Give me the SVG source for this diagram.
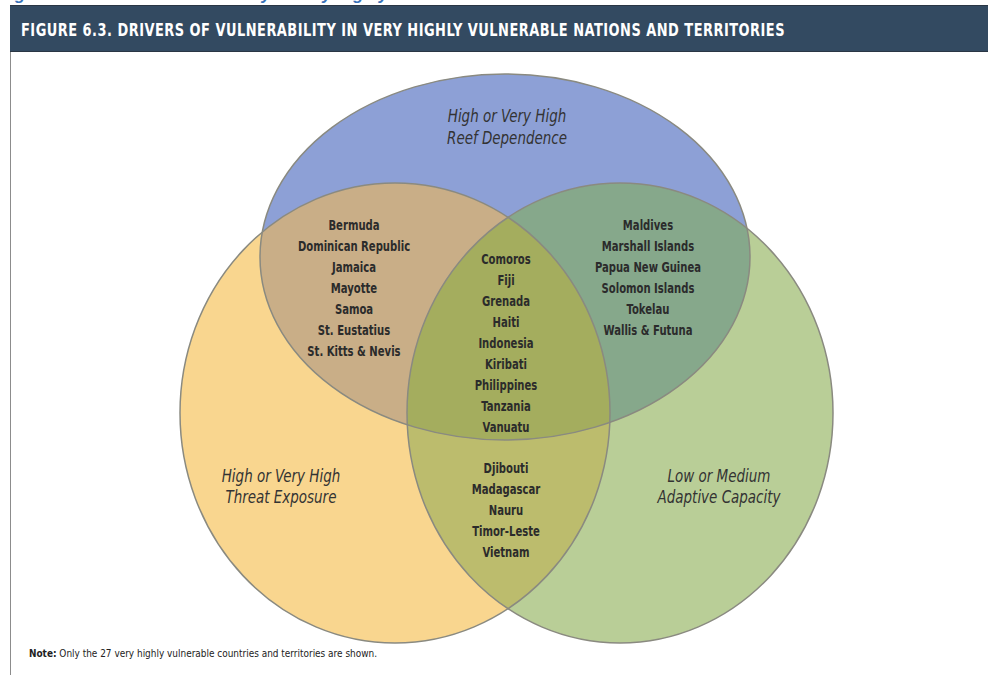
<svg xmlns="http://www.w3.org/2000/svg" width="988" height="675" viewBox="0 0 988 675">
  <style>
    .cap { font-family: "Liberation Sans", Arial, sans-serif; font-weight: bold; font-style: italic; font-size: 17px; fill: #3a72b8; }
    .title { font-family: "Liberation Sans Narrow", "DejaVu Sans Condensed", "Liberation Sans", sans-serif; font-weight: bold; font-size: 18px; fill: #ffffff; letter-spacing: 0.6px; }
    .name { font-family: "Liberation Sans Narrow", "DejaVu Sans Condensed", "Liberation Sans", sans-serif; font-weight: bold; font-size: 14px; fill: #2b2b2b; text-anchor: middle; }
    .set { font-family: "Liberation Sans Narrow", "DejaVu Sans Condensed", "Liberation Sans", sans-serif; font-style: italic; font-size: 17px; fill: #333333; text-anchor: middle; }
    .note { font-family: "Liberation Sans Narrow", "DejaVu Sans Condensed", "Liberation Sans", sans-serif; font-size: 11px; fill: #222222; }
    .edge { fill: none; stroke: #8a8a80; stroke-width: 1.5; }
  </style>
  <defs>
    <ellipse id="reef" cx="505" cy="257" rx="245" ry="183"/>
    <ellipse id="threat" cx="395" cy="413" rx="215" ry="230"/>
    <ellipse id="adapt" cx="620" cy="413" rx="213" ry="230"/>
    <clipPath id="clipReef"><use href="#reef"/></clipPath>
    <clipPath id="clipThreat"><use href="#threat"/></clipPath>
  </defs>

  <rect width="988" height="675" fill="#ffffff"/>

  <!-- caption line above the panel, mostly cut off by the top edge -->
  <text class="cap" x="0" y="0">Figure 6.3 Drivers of Vulnerability in Very Highly Vulnerable Nations and Territories</text>

  <!-- title bar -->
  <g id="title-bar">
    <rect x="10" y="5" width="978" height="47" fill="#334a61"/>
    <line x1="10" y1="5.5" x2="988" y2="5.5" stroke="#2a3644" stroke-width="1"/>
    <line x1="10" y1="51.5" x2="988" y2="51.5" stroke="#2a3644" stroke-width="1"/>
    <text class="title" x="21" y="36" textLength="764" lengthAdjust="spacingAndGlyphs">FIGURE 6.3.  DRIVERS OF VULNERABILITY IN VERY HIGHLY VULNERABLE NATIONS AND TERRITORIES</text>
  </g>
  <line x1="10.5" y1="52" x2="10.5" y2="675" stroke="#8c8c8c" stroke-width="1"/>

  <!-- Venn sets -->
  <g id="set-reef"><use href="#reef" fill="#8da0d6"/></g>
  <g id="set-threat"><use href="#threat" fill="#f9d68f"/></g>
  <g id="set-adapt"><use href="#adapt" fill="#b9ce97"/></g>

  <!-- overlap fills -->
  <g id="overlaps">
    <g clip-path="url(#clipThreat)"><use href="#adapt" fill="#bcbc6d"/></g>
    <g clip-path="url(#clipReef)"><use href="#threat" fill="#c9ae87"/></g>
    <g clip-path="url(#clipReef)"><use href="#adapt" fill="#86a88b"/></g>
    <g clip-path="url(#clipReef)"><g clip-path="url(#clipThreat)"><use href="#adapt" fill="#a4ad5e"/></g></g>
  </g>

  <g id="outlines">
    <use href="#reef" class="edge"/>
    <use href="#threat" class="edge"/>
    <use href="#adapt" class="edge"/>
  </g>

  <!-- set labels (narrowed around their centre lines) -->
  <g id="label-reef" transform="translate(507 0) scale(0.88 1) translate(-507 0)">
    <text class="set" x="507" y="122">High or Very High</text>
    <text class="set" x="507" y="144">Reef Dependence</text>
  </g>
  <g id="label-threat" transform="translate(281 0) scale(0.88 1) translate(-281 0)">
    <text class="set" x="281" y="482">High or Very High</text>
    <text class="set" x="281" y="503">Threat Exposure</text>
  </g>
  <g id="label-adapt" transform="translate(719 0) scale(0.88 1) translate(-719 0)">
    <text class="set" x="719" y="482">Low or Medium</text>
    <text class="set" x="719" y="503">Adaptive Capacity</text>
  </g>

  <!-- reef + threat -->
  <g id="group-reef-threat" transform="translate(354 0) scale(0.8 1) translate(-354 0)">
    <text class="name" x="354" y="230">Bermuda</text>
    <text class="name" x="354" y="251">Dominican Republic</text>
    <text class="name" x="354" y="272">Jamaica</text>
    <text class="name" x="354" y="293">Mayotte</text>
    <text class="name" x="354" y="314">Samoa</text>
    <text class="name" x="354" y="335">St. Eustatius</text>
    <text class="name" x="354" y="356">St. Kitts &amp; Nevis</text>
  </g>

  <!-- reef + adaptive -->
  <g id="group-reef-adapt" transform="translate(648 0) scale(0.8 1) translate(-648 0)">
    <text class="name" x="648" y="230">Maldives</text>
    <text class="name" x="648" y="251">Marshall Islands</text>
    <text class="name" x="648" y="272">Papua New Guinea</text>
    <text class="name" x="648" y="293">Solomon Islands</text>
    <text class="name" x="648" y="314">Tokelau</text>
    <text class="name" x="648" y="335">Wallis &amp; Futuna</text>
  </g>

  <!-- all three -->
  <g id="group-all" transform="translate(506 0) scale(0.8 1) translate(-506 0)">
    <text class="name" x="506" y="264">Comoros</text>
    <text class="name" x="506" y="285">Fiji</text>
    <text class="name" x="506" y="306">Grenada</text>
    <text class="name" x="506" y="327">Haiti</text>
    <text class="name" x="506" y="348">Indonesia</text>
    <text class="name" x="506" y="369">Kiribati</text>
    <text class="name" x="506" y="390">Philippines</text>
    <text class="name" x="506" y="411">Tanzania</text>
    <text class="name" x="506" y="432">Vanuatu</text>
  </g>

  <!-- threat + adaptive -->
  <g id="group-threat-adapt" transform="translate(506 0) scale(0.8 1) translate(-506 0)">
    <text class="name" x="506" y="473">Djibouti</text>
    <text class="name" x="506" y="494">Madagascar</text>
    <text class="name" x="506" y="515">Nauru</text>
    <text class="name" x="506" y="536">Timor-Leste</text>
    <text class="name" x="506" y="557">Vietnam</text>
  </g>

  <!-- footnote -->
  <text class="note" x="29" y="657" textLength="348" lengthAdjust="spacingAndGlyphs"><tspan font-weight="bold">Note:</tspan> Only the 27 very highly vulnerable countries and territories are shown.</text>
</svg>
